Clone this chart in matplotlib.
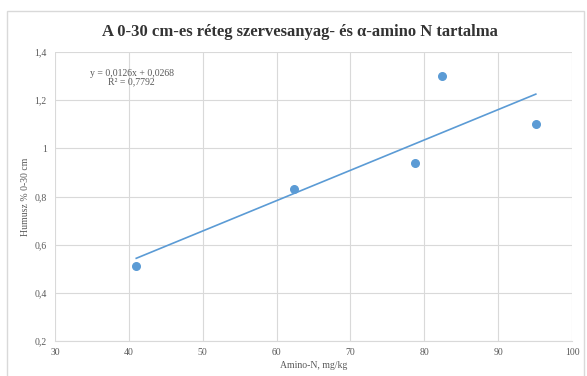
import matplotlib.pyplot as plt
from matplotlib.patches import Rectangle

plt.rcParams['font.family'] = ['Liberation Serif', 'DejaVu Serif']

# adatok
amino_n = [41.0, 62.4, 78.8, 82.4, 95.1]
humusz = [0.51, 0.83, 0.94, 1.30, 1.10]
slope = 0.0126
intercept = 0.0268
x_ticks = [30, 40, 50, 60, 70, 80, 90, 100]
y_ticks = [0.2, 0.4, 0.6, 0.8, 1.0, 1.2, 1.4]
y_labels = ['0,2', '0,4', '0,6', '0,8', '1', '1,2', '1,4']

blue = '#5b9bd5'
gray_txt = '#595959'
grid_col = '#d9d9d9'

W, H = 587, 376
fig = plt.figure(figsize=(W / 100, H / 100), dpi=100)
ax = fig.add_axes([55 / W, 1 - 341 / H, (572 - 55) / W, (341 - 52) / H])

# keret
fig.patches.append(Rectangle((7 / W, -0.01), 577 / W, 1 - 11 / H + 0.01,
                             transform=fig.transFigure, fill=False,
                             edgecolor=grid_col, linewidth=1))

ax.scatter(amino_n, humusz, s=30, color=blue, zorder=3)
x0, x1 = min(amino_n), max(amino_n)
ax.plot([x0, x1], [slope * x0 + intercept, slope * x1 + intercept],
        color=blue, linewidth=1.2, zorder=2)

ax.set_xlim(30, 100)
ax.set_ylim(0.2, 1.4)
ax.set_xticks(x_ticks)
ax.set_yticks(y_ticks)
ax.set_yticklabels(y_labels)
ax.tick_params(length=0, labelsize=7, colors=gray_txt)
ax.tick_params(axis='x', pad=5)
ax.tick_params(axis='y', pad=6)
ax.grid(True, color=grid_col, linewidth=0.8)
ax.set_axisbelow(True)
for s in ['top', 'right', 'left']:
    ax.spines[s].set_visible(False)
ax.spines['bottom'].set_color(grid_col)

ax.set_xlabel('Amino-N, mg/kg', fontsize=7, color=gray_txt, labelpad=3)
ax.set_ylabel('Humusz % 0-30 cm', fontsize=7, color=gray_txt, labelpad=3)

fig.text(300 / W, 1 - 32 / H, 'A 0-30 cm-es réteg szervesanyag- és α-amino N tartalma',
         ha='center', va='center', fontsize=12, fontweight='bold', color='#333333')

ax.text(40.4, 1.294, 'y = 0,0126x + 0,0268\nR² = 0,7792', ha='center', va='center',
        fontsize=7, color=gray_txt, linespacing=1.0)

fig.savefig('out.png', dpi=100)
